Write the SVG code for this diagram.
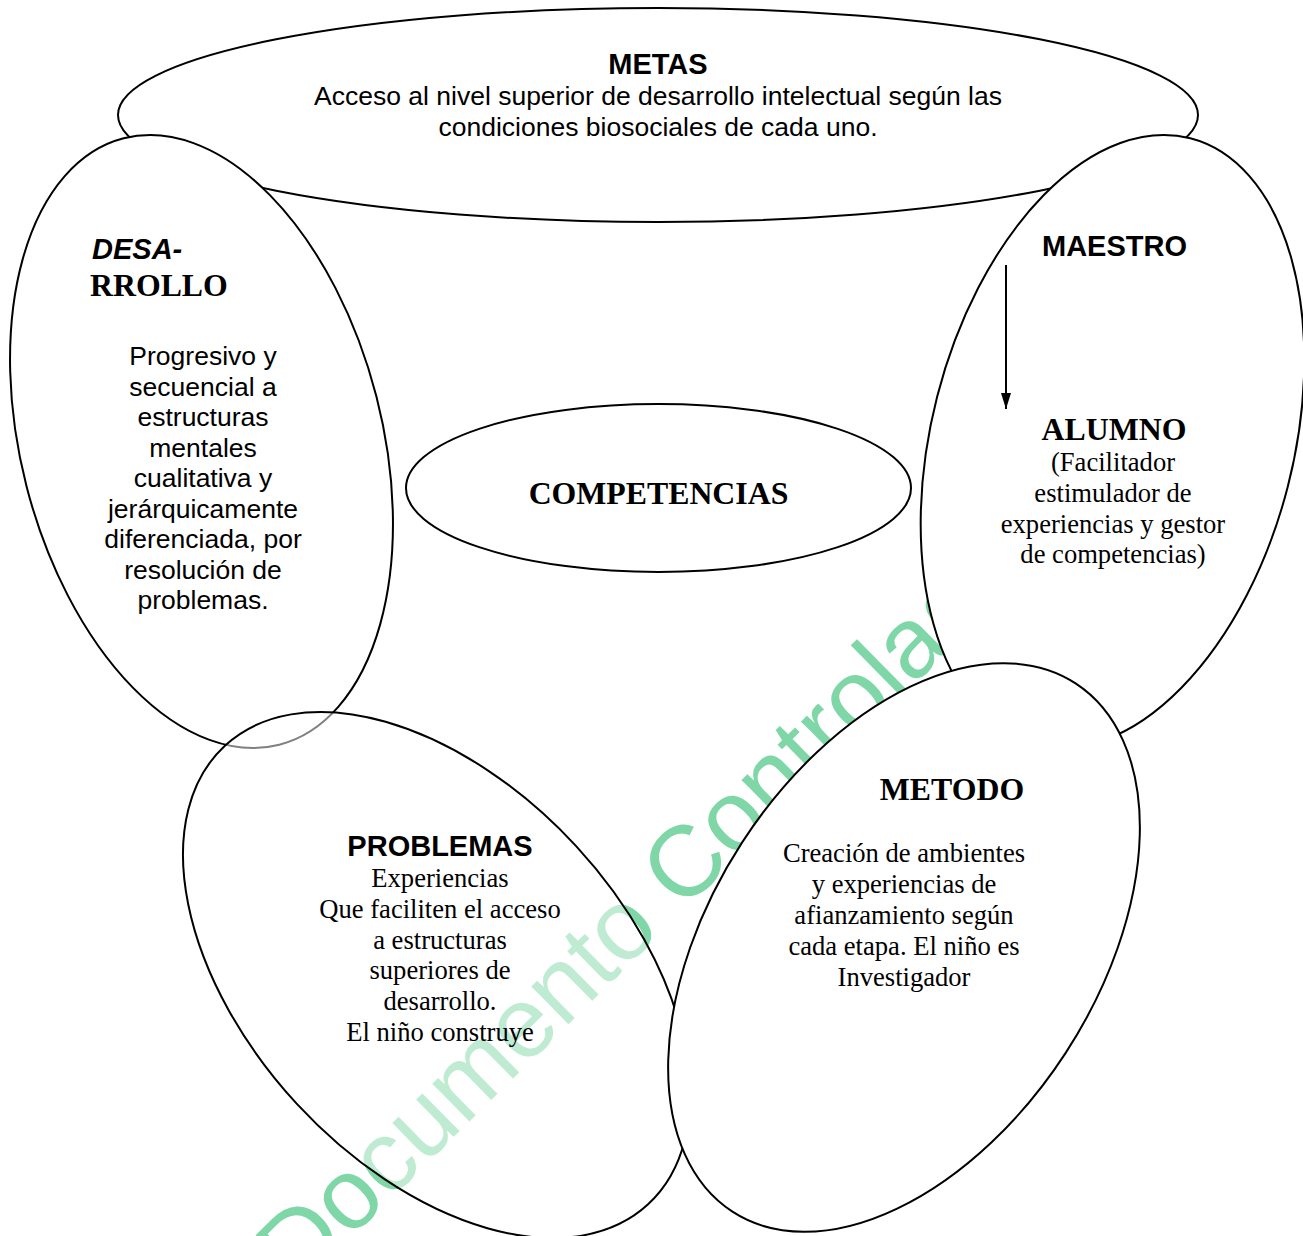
<svg xmlns="http://www.w3.org/2000/svg" width="1303" height="1236" viewBox="0 0 1303 1236">
<style>
.sh{fill:#fff;stroke:#000;stroke-width:2}
.sans{font-family:"Liberation Sans",Arial,sans-serif;font-size:26.5px;fill:#000}
.sansb{font-family:"Liberation Sans",Arial,sans-serif;font-size:29px;font-weight:bold;fill:#000}
.ser{font-family:"Liberation Serif","Times New Roman",serif;font-size:26.6px;fill:#000}
.serb{font-family:"Liberation Serif","Times New Roman",serif;font-size:31.8px;font-weight:bold;fill:#000}
.c{text-anchor:middle}
.wm{font-family:"Liberation Sans",Arial,sans-serif;font-size:100px;fill:#7fd7a7}
</style>
<defs>
<marker id="ah" viewBox="0 0 10 16" refX="5" refY="16" markerWidth="11" markerHeight="16" markerUnits="userSpaceOnUse" orient="0">
<path d="M0,0 L10,0 L5,16 z" fill="#000"/>
</marker>
</defs>
<rect width="1303" height="1236" fill="#fff"/>
<g id="metas">
<ellipse class="sh" cx="658" cy="115" rx="540" ry="107"/>
<text class="sansb c" x="658" y="74">METAS</text>
<text class="sans c" x="658" y="105">Acceso al nivel superior de desarrollo intelectual según las</text>
<text class="sans c" x="658" y="136">condiciones biosociales de cada uno.</text>
</g>
<g id="desarrollo">
<ellipse class="sh" cx="0" cy="0" rx="180.6" ry="313" transform="translate(201.5,441.5) rotate(-14.4)"/>
<text class="sansb" x="92" y="259" font-style="italic" font-size="31.8">DESA-</text>
<text class="serb" x="90" y="296">RROLLO</text>
<text class="sans c" x="203"><tspan x="203" y="365">Progresivo y</tspan><tspan x="203" y="395.5">secuencial a</tspan><tspan x="203" y="426">estructuras</tspan><tspan x="203" y="456.5">mentales</tspan><tspan x="203" y="487">cualitativa y</tspan><tspan x="203" y="517.5">jerárquicamente</tspan><tspan x="203" y="548">diferenciada, por</tspan><tspan x="203" y="578.5">resolución de</tspan><tspan x="203" y="609">problemas.</tspan></text>
</g>
<g id="competencias">
<ellipse class="sh" cx="658.5" cy="488" rx="252.5" ry="84"/>
<text class="serb c" x="658.5" y="504">COMPETENCIAS</text>
</g>
<g id="watermark">
<text class="wm" transform="translate(298,1290) rotate(-44.5)">Documento Controlado</text>
</g>
<g id="problemas">
<ellipse cx="0" cy="0" rx="190" ry="312" transform="translate(436.5,975) rotate(-42.7)" fill="#fff" fill-opacity="0.5" stroke="#000" stroke-width="2"/>
<text class="sansb c" x="440" y="856">PROBLEMAS</text>
<text class="ser c"><tspan x="440" y="887">Experiencias</tspan><tspan x="440" y="918">Que faciliten el acceso</tspan><tspan x="440" y="948.5">a estructuras</tspan><tspan x="440" y="979">superiores de</tspan><tspan x="440" y="1010">desarrollo.</tspan><tspan x="440" y="1040.5">El niño construye</tspan></text>
</g>
<g id="maestro">
<ellipse class="sh" cx="0" cy="0" rx="181" ry="313" transform="translate(1112.5,441.5) rotate(14.4)"/>
<text class="sansb" x="1042" y="256">MAESTRO</text>
<text class="serb c" x="1114" y="440">ALUMNO</text>
<text class="ser c"><tspan x="1113" y="471">(Facilitador</tspan><tspan x="1113" y="502">estimulador de</tspan><tspan x="1113" y="532.5">experiencias y gestor</tspan><tspan x="1113" y="563">de competencias)</tspan></text>
</g>
<g id="connectors">
<line x1="1006" y1="265" x2="1006" y2="409" stroke="#000" stroke-width="2" marker-end="url(#ah)"/>
</g>
<g id="metodo">
<ellipse class="sh" cx="0" cy="0" rx="193" ry="315" transform="translate(904,947.5) rotate(33)"/>
<text class="serb c" x="952" y="800">METODO</text>
<text class="ser c"><tspan x="904" y="862">Creación de ambientes</tspan><tspan x="904" y="893">y experiencias de</tspan><tspan x="904" y="924">afianzamiento según</tspan><tspan x="904" y="955">cada etapa. El niño es</tspan><tspan x="904" y="986">Investigador</tspan></text>
</g>
</svg>
